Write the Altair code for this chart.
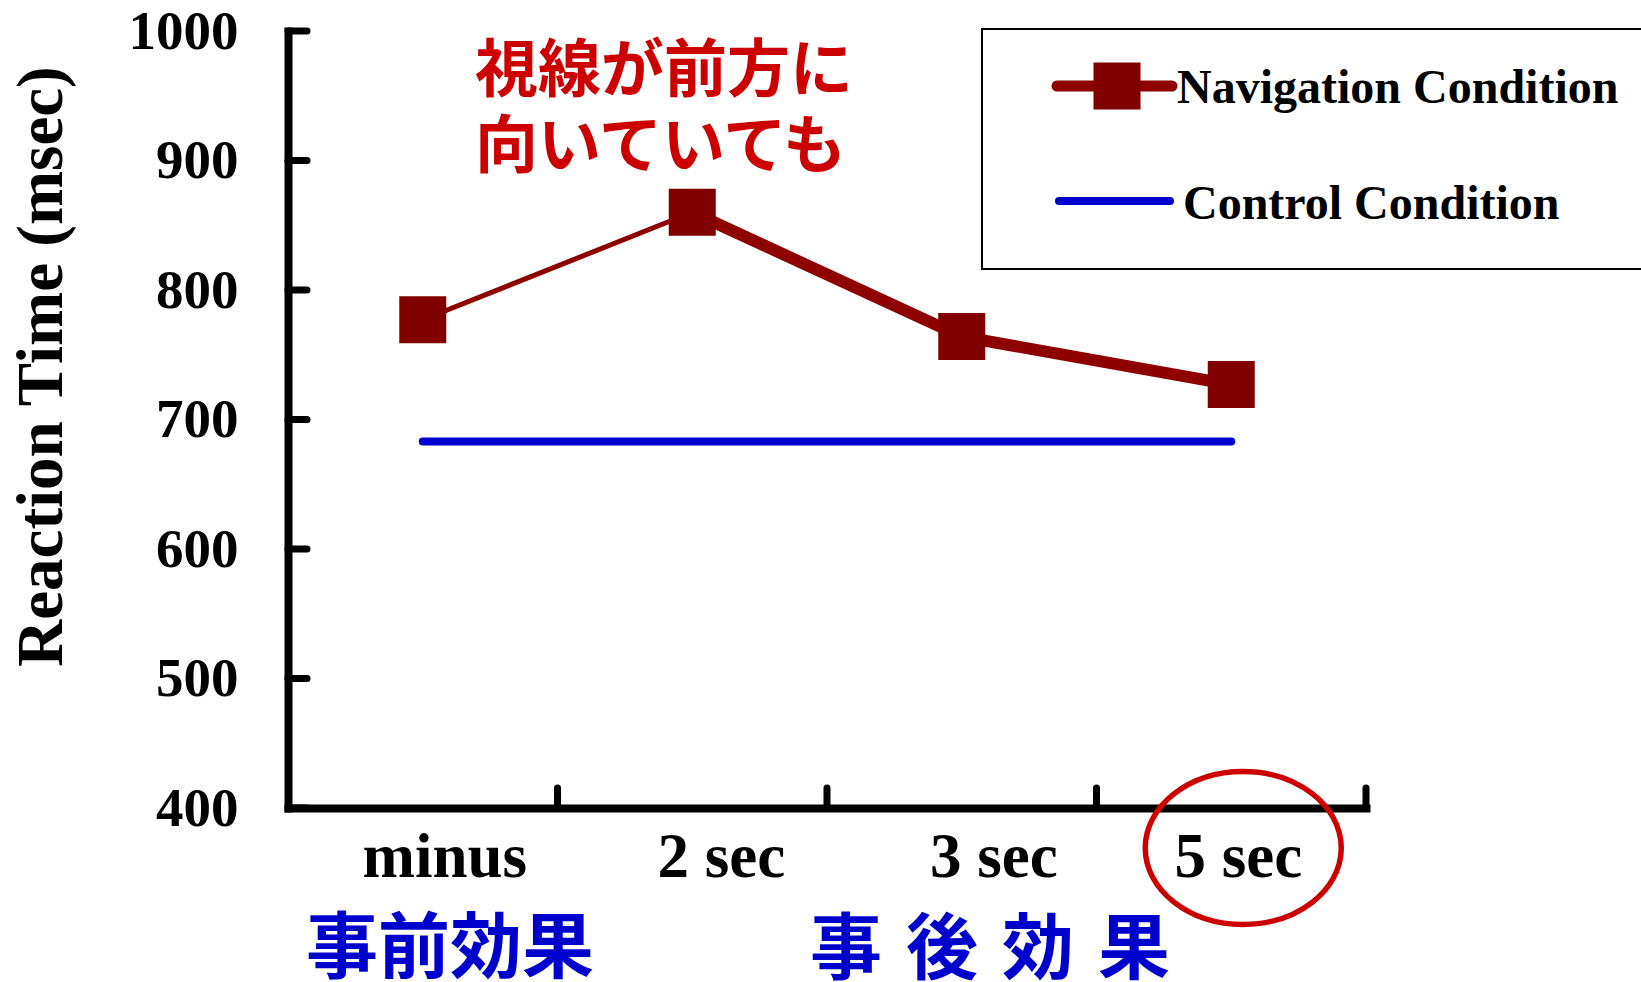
import altair as alt
import pandas as pd

# ---- data -------------------------------------------------------------
categories = ["minus", "2 sec", "3 sec", "5 sec"]
navigation_ms = [777, 860, 764, 727]
control_ms = [683, 683, 683, 683]
segment_widths = [5, 12, 12]          # stroke width of each consecutive segment
y_ticks = [400, 500, 600, 700, 800, 900, 1000]
note_lines = ["視線が前方に", "向いていても"]
pre_label = "事前効果"
post_label = "事\u2004後\u2004効\u2004果"
legend_labels = ["Navigation Condition", "Control Condition"]

# ---- layout -----------------------------------------------------------
W, H = 1078, 777
PAD = {"left": 288, "top": 31, "right": 275, "bottom": 174}

NAV_LINE = "#8E0000"
NAV_MARK = "#800000"
CTRL = "#0000CC"
NOTE = "#CC0000"
SERIF = "Liberation Serif"
CJK = "Noto Sans CJK JP"

nav = pd.DataFrame({"cat": categories, "ms": navigation_ms})
ctrl = pd.DataFrame({"cat": categories, "ms": control_ms})
seg_rows = []
for i, w in enumerate(segment_widths):
    for j in (i, i + 1):
        seg_rows.append({"seg": i, "cat": categories[j], "ms": navigation_ms[j], "w": w})
segs = pd.DataFrame(seg_rows)
ticks_df = pd.DataFrame({"ms": y_ticks})
cats_df = pd.DataFrame({"cat": categories})
one = pd.DataFrame({"cat": [categories[-1]]})

x_scale = alt.Scale(type="band", domain=categories, paddingInner=0, paddingOuter=0)
x_axis = alt.Axis(
    title=None,
    ticks=False,
    tickSize=0,
    grid=False,
    domainColor="black",
    domainWidth=8,
    domainCap="square",
    labelAngle=0,
    labelFont=SERIF,
    labelFontWeight="bold",
    labelFontSize=63,
    labelColor="black",
    labelBaseline="alphabetic",
    labelPadding=68,
    labelOffset=alt.ExprRef(
        "datum.value === 'minus' ? 22 : datum.value === '2 sec' ? 29 : "
        "datum.value === '3 sec' ? 32 : 7"
    ),
)
y_scale = alt.Scale(domain=[400, 1000], nice=False, zero=False)
y_axis = alt.Axis(
    title="Reaction Time (msec)",
    values=y_ticks,
    format="d",
    ticks=False,
    tickSize=0,
    grid=False,
    domainColor="black",
    domainWidth=8,
    domainCap="square",
    labelFont=SERIF,
    labelFontWeight="bold",
    labelFontSize=55,
    labelColor="black",
    labelPadding=50,
    titleFont=SERIF,
    titleFontWeight="bold",
    titleFontSize=65,
    titleColor="black",
    titleAngle=270,
    titleAlign="center",
    titleBaseline="middle",
    titleX=-247,
    titleY=335,
)


def xe(band=0.5):
    return alt.X("cat:N", bandPosition=band, scale=x_scale, sort=categories, axis=x_axis)


def ye():
    return alt.Y("ms:Q", scale=y_scale, axis=y_axis)


# inward ticks on both axes
x_tick_rules = alt.Chart(cats_df).mark_rule(
    color="black", strokeWidth=7, strokeCap="round"
).encode(x=xe(1), y=alt.value(H - 20), y2=alt.value(H))

y_tick_rules = alt.Chart(ticks_df).mark_rule(
    color="black", strokeWidth=7, strokeCap="round"
).encode(y=ye(), x=alt.value(0), x2=alt.value(19))

control_line = alt.Chart(ctrl).mark_line(
    color=CTRL, strokeWidth=8, strokeCap="round"
).encode(x=xe(), y=ye())

nav_lines = alt.Chart(segs).mark_line(color=NAV_LINE, strokeCap="butt").encode(
    x=xe(), y=ye(), detail="seg:N", strokeWidth=alt.StrokeWidth("w:Q", scale=None)
)

nav_points = alt.Chart(nav).mark_square(
    size=47 * 47, color=NAV_MARK, opacity=1
).encode(x=xe(), y=ye())

# ring drawn around the last category label
ellipse = alt.Chart(one).mark_point(
    shape="M-1,0A1,0.78,0,1,1,1,0A1,0.78,0,1,1,-1,0Z",
    size=196 * 196,
    filled=False,
    stroke=NOTE,
    strokeWidth=5.5,
    opacity=1,
    xOffset=12,
).encode(x=xe(), y=alt.value(817))

# red note at the top
note_style = dict(font=CJK, fontSize=63, fontWeight="bold", color=NOTE,
                  align="left", baseline="alphabetic")
note1 = alt.Chart(cats_df.head(1)).mark_text(**note_style).encode(
    x=alt.value(187), y=alt.value(60), text=alt.value(note_lines[0]))
note2 = alt.Chart(cats_df.head(1)).mark_text(**note_style).encode(
    x=alt.value(187), y=alt.value(136), text=alt.value(note_lines[1]))

# blue group labels under the axis
group_style = dict(font=CJK, fontSize=72, fontWeight="bold", color=CTRL,
                   align="center", baseline="alphabetic")
pre_text = alt.Chart(cats_df.head(1)).mark_text(**group_style).encode(
    x=alt.value(162), y=alt.value(941), text=alt.value(pre_label))
post_text = alt.Chart(cats_df.head(1)).mark_text(**group_style).encode(
    x=alt.value(702), y=alt.value(942), text=alt.value(post_label))

# legend box
legend_box = alt.Chart(cats_df.head(1)).mark_rect(
    fill="white", stroke="black", strokeWidth=2
).encode(x=alt.value(694), x2=alt.value(1370), y=alt.value(-2), y2=alt.value(238))
leg_nav_line = alt.Chart(cats_df.head(1)).mark_rule(
    color=NAV_LINE, strokeWidth=11, strokeCap="round"
).encode(x=alt.value(769), x2=alt.value(884), y=alt.value(55))
leg_nav_sq = alt.Chart(cats_df.head(1)).mark_square(
    size=47 * 47, color=NAV_MARK, opacity=1
).encode(x=alt.value(829), y=alt.value(55))
leg_text_style = dict(font=SERIF, fontSize=48, fontWeight="bold", color="black",
                      align="left", baseline="alphabetic")
leg_nav_txt = alt.Chart(cats_df.head(1)).mark_text(**leg_text_style).encode(
    x=alt.value(889), y=alt.value(72), text=alt.value(legend_labels[0]))
leg_ctrl_line = alt.Chart(cats_df.head(1)).mark_rule(
    color=CTRL, strokeWidth=8, strokeCap="round"
).encode(x=alt.value(771), x2=alt.value(882), y=alt.value(170))
leg_ctrl_txt = alt.Chart(cats_df.head(1)).mark_text(**leg_text_style).encode(
    x=alt.value(895), y=alt.value(188), text=alt.value(legend_labels[1]))

chart = alt.layer(
    x_tick_rules,
    y_tick_rules,
    control_line,
    nav_lines,
    nav_points,
    ellipse,
    note1,
    note2,
    pre_text,
    post_text,
    legend_box,
    leg_nav_line,
    leg_nav_sq,
    leg_nav_txt,
    leg_ctrl_line,
    leg_ctrl_txt,
).properties(
    width=W,
    height=H,
    autosize=alt.AutoSizeParams(type="none"),
    padding=PAD,
    background="white",
).configure_view(stroke=None)

chart.save("out.html", embed_options={"renderer": "svg", "actions": False})
